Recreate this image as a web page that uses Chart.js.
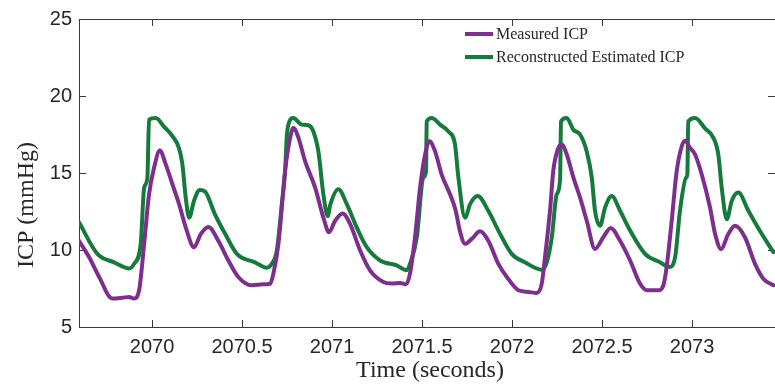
<!DOCTYPE html>
<html>
<head>
<meta charset="utf-8">
<script src="https://cdn.jsdelivr.net/npm/chart.js@4.4.0/dist/chart.umd.min.js"></script>
<style>
  html, body { margin: 0; padding: 0; background: #fff; }
  #wrap { width: 775px; height: 390px; }
</style>
</head>
<body>
<div id="wrap"><canvas id="icpChart"></canvas></div>
<script>
// Measured ICP trace (time in seconds, ICP in mmHg)
const timeMeasured = [
  2069.594, 2069.650, 2069.706, 2069.779, 2069.835, 2069.872, 2069.900, 2069.928, 2069.956, 2069.983,
  2070.011, 2070.043, 2070.076, 2070.113, 2070.150, 2070.187, 2070.233, 2070.271, 2070.313, 2070.368,
  2070.424, 2070.479, 2070.554, 2070.618, 2070.656, 2070.674, 2070.702, 2070.739, 2070.767, 2070.785,
  2070.813, 2070.850, 2070.906, 2070.952, 2070.983, 2071.017, 2071.059, 2071.100, 2071.156, 2071.211,
  2071.285, 2071.332, 2071.378, 2071.411, 2071.433, 2071.461, 2071.489, 2071.517, 2071.541, 2071.572,
  2071.609, 2071.656, 2071.686, 2071.711, 2071.739, 2071.776, 2071.822, 2071.868, 2071.924, 2071.971,
  2072.035, 2072.091, 2072.137, 2072.165, 2072.183, 2072.211, 2072.229, 2072.254, 2072.276, 2072.304,
  2072.341, 2072.378, 2072.415, 2072.461, 2072.507, 2072.548, 2072.600, 2072.656, 2072.711, 2072.748,
  2072.813, 2072.841, 2072.859, 2072.887, 2072.915, 2072.943, 2072.961, 2072.989, 2073.017, 2073.054,
  2073.100, 2073.128, 2073.161, 2073.202, 2073.239, 2073.294, 2073.350, 2073.396, 2073.452
];
const icpMeasured = [
  10.6, 9.54, 8.25, 6.85, 6.9, 6.95, 6.85, 7.39, 10.4, 13.6,
  15.34, 16.46, 15.56, 14.27, 12.98, 11.47, 10.18, 11.05, 11.5, 10.6,
  9.32, 8.25, 7.71, 7.77, 7.81, 8.46, 10.4, 15.13, 17.28, 17.92,
  17.3, 15.77, 14.05, 12.1, 11.15, 11.9, 12.37, 11.69, 9.97, 8.68,
  7.92, 7.82, 7.86, 7.77, 8.46, 10.83, 14.05, 16.2, 17.06, 16.42,
  14.9, 13.6, 12.6, 11.2, 10.4, 10.72, 11.21, 10.6, 9.1, 8.25,
  7.39, 7.28, 7.21, 7.81, 9.53, 12.55, 15.13, 16.53, 16.85, 16.2,
  14.7, 13.4, 11.9, 10.07, 10.83, 11.43, 10.6, 9.32, 7.82, 7.39,
  7.39, 7.71, 8.89, 11.9, 15.13, 16.74, 17.1, 16.63, 16.2, 14.9,
  12.76, 11.05, 10.07, 11.05, 11.58, 10.83, 9.1, 8.14, 7.71
];

// Reconstructed estimated ICP trace
const timeEstimated = [
  2069.594, 2069.696, 2069.789, 2069.872, 2069.900, 2069.937, 2069.956, 2069.974, 2069.983, 2070.021,
  2070.067, 2070.113, 2070.150, 2070.168, 2070.187, 2070.206, 2070.233, 2070.265, 2070.294, 2070.350,
  2070.406, 2070.471, 2070.572, 2070.637, 2070.665, 2070.693, 2070.721, 2070.739, 2070.748, 2070.757,
  2070.785, 2070.832, 2070.868, 2070.896, 2070.924, 2070.952, 2070.976, 2070.989, 2071.035, 2071.082,
  2071.137, 2071.193, 2071.267, 2071.359, 2071.415, 2071.433, 2071.471, 2071.507, 2071.522, 2071.526,
  2071.554, 2071.600, 2071.646, 2071.683, 2071.702, 2071.739, 2071.767, 2071.809, 2071.868, 2071.924,
  2071.998, 2072.072, 2072.165, 2072.193, 2072.221, 2072.248, 2072.267, 2072.272, 2072.304, 2072.341,
  2072.378, 2072.415, 2072.443, 2072.461, 2072.489, 2072.517, 2072.554, 2072.600, 2072.656, 2072.739,
  2072.822, 2072.874, 2072.906, 2072.933, 2072.967, 2072.974, 2072.979, 2073.017, 2073.072, 2073.118,
  2073.146, 2073.165, 2073.193, 2073.221, 2073.257, 2073.313, 2073.387, 2073.452
];
const icpEstimated = [
  11.8, 9.75, 9.2, 8.8, 9.1, 10.4, 14.05, 14.7, 18.46, 18.57,
  18.0, 17.4, 16.6, 15.6, 13.4, 12.1, 13.2, 13.9, 13.8, 12.3,
  11.05, 9.75, 9.2, 8.85, 9.1, 9.97, 12.98, 15.1, 17.3, 18.14,
  18.57, 18.14, 18.1, 17.7, 16.4, 13.6, 12.2, 12.9, 13.95, 12.98,
  11.47, 10.18, 9.32, 9.0, 8.68, 9.1, 10.83, 14.7, 15.1, 18.35,
  18.57, 18.14, 17.7, 16.85, 14.7, 12.1, 12.98, 13.5, 12.55, 11.26,
  9.75, 9.2, 8.72, 9.2, 10.83, 13.6, 14.6, 18.35, 18.57, 17.8,
  17.5, 16.4, 14.7, 12.55, 11.58, 12.76, 13.5, 12.55, 11.26, 9.75,
  9.2, 8.89, 9.53, 12.55, 14.7, 14.9, 18.35, 18.57, 17.9, 17.3,
  16.2, 14.05, 12.0, 13.2, 13.73, 12.55, 11.05, 9.86
];

const xTickValues = [2070, 2070.5, 2071, 2071.5, 2072, 2072.5, 2073];
const yTickValues = [5, 10, 15, 20, 25];
const seriesLabels = ['Measured ICP', 'Reconstructed Estimated ICP'];
const xTitle = 'Time (seconds)';
const yTitle = 'ICP (mmHg)';

const purple = '#7E2F8E';
const green = '#167A3C';
const axisColor = '#3a3a3a';
const serif = '"Liberation Serif", "Times New Roman", serif';
const sans = '"Liberation Sans", Arial, sans-serif';

const toPoints = (xs, ys) => xs.map((x, i) => ({ x: x, y: ys[i] }));

// MATLAB-like box: spines + inward ticks, axis titles, legend
const matlabFrame = {
    id: 'matlabFrame',
    beforeDatasetsDraw(chart) {
        const { ctx, chartArea: a, scales } = chart;
        const tick = 7;
        ctx.save();
        ctx.strokeStyle = axisColor;
        ctx.lineWidth = 1;
        ctx.beginPath();
        ctx.moveTo(a.right + 1, a.top + 0.5);
        ctx.lineTo(a.left + 0.5, a.top + 0.5);
        ctx.lineTo(a.left + 0.5, a.bottom + 0.5);
        ctx.lineTo(a.right + 1, a.bottom + 0.5);
        xTickValues.forEach(v => {
            const px = Math.round(scales.x.getPixelForValue(v)) + 0.5;
            ctx.moveTo(px, a.bottom);
            ctx.lineTo(px, a.bottom - tick);
            ctx.moveTo(px, a.top);
            ctx.lineTo(px, a.top + tick);
        });
        yTickValues.forEach(v => {
            const py = Math.round(scales.y.getPixelForValue(v)) + 0.5;
            ctx.moveTo(a.left, py);
            ctx.lineTo(a.left + tick, py);
            ctx.moveTo(a.right, py);
            ctx.lineTo(a.right - tick, py);
        });
        ctx.stroke();
        ctx.restore();
    },
    afterDraw(chart) {
        const { ctx } = chart;
        ctx.save();
        ctx.fillStyle = '#262626';
        ctx.font = '24px ' + serif;
        ctx.textAlign = 'center';
        ctx.textBaseline = 'alphabetic';
        ctx.fillText(xTitle, 430, 377);

        ctx.translate(33, 205);
        ctx.rotate(-Math.PI / 2);
        ctx.fillText(yTitle, 0, 0);
        ctx.restore();

        // legend
        ctx.save();
        ctx.font = '16px ' + serif;
        ctx.textAlign = 'left';
        ctx.textBaseline = 'middle';
        chart.data.datasets.forEach((ds, i) => {
            const y = 34 + i * 23;
            ctx.strokeStyle = ds.borderColor;
            ctx.lineWidth = 4;
            ctx.beginPath();
            ctx.moveTo(465, y);
            ctx.lineTo(493, y);
            ctx.stroke();
            ctx.fillStyle = '#262626';
            ctx.fillText(ds.label, 496, y + 1);
        });
        ctx.restore();
    }
};

const ctx = document.getElementById('icpChart').getContext('2d');
new Chart(ctx, {
    type: 'line',
    data: {
        datasets: [
            {
                label: seriesLabels[0],
                data: toPoints(timeMeasured, icpMeasured),
                borderColor: purple,
                borderWidth: 4,
                pointRadius: 0,
                cubicInterpolationMode: 'monotone',
                borderJoinStyle: 'round',
                borderCapStyle: 'round'
            },
            {
                label: seriesLabels[1],
                data: toPoints(timeEstimated, icpEstimated),
                borderColor: green,
                borderWidth: 4,
                pointRadius: 0,
                cubicInterpolationMode: 'monotone',
                borderJoinStyle: 'round',
                borderCapStyle: 'round'
            }
        ]
    },
    options: {
        responsive: true,
        maintainAspectRatio: false,
        animation: false,
        layout: { padding: { top: 17, right: 0, left: 0, bottom: 0 } },
        plugins: {
            legend: { display: false },
            tooltip: { enabled: false }
        },
        scales: {
            x: {
                type: 'linear',
                min: 2069.594,
                max: 2073.461,
                afterBuildTicks: scale => { scale.ticks = xTickValues.map(v => ({ value: v })); },
                afterFit: scale => { scale.height = 63; },
                ticks: {
                    color: '#262626',
                    font: { family: sans, size: 20 },
                    padding: 8,
                    maxRotation: 0,
                    callback: v => String(v)
                },
                grid: { display: false, drawTicks: false },
                border: { display: false }
            },
            y: {
                min: 5,
                max: 25,
                afterBuildTicks: scale => { scale.ticks = yTickValues.map(v => ({ value: v })); },
                afterFit: scale => { scale.width = 79; },
                ticks: {
                    color: '#262626',
                    font: { family: sans, size: 20 },
                    padding: 7
                },
                grid: { display: false, drawTicks: false },
                border: { display: false }
            }
        }
    },
    plugins: [matlabFrame]
});
</script>
</body>
</html>
